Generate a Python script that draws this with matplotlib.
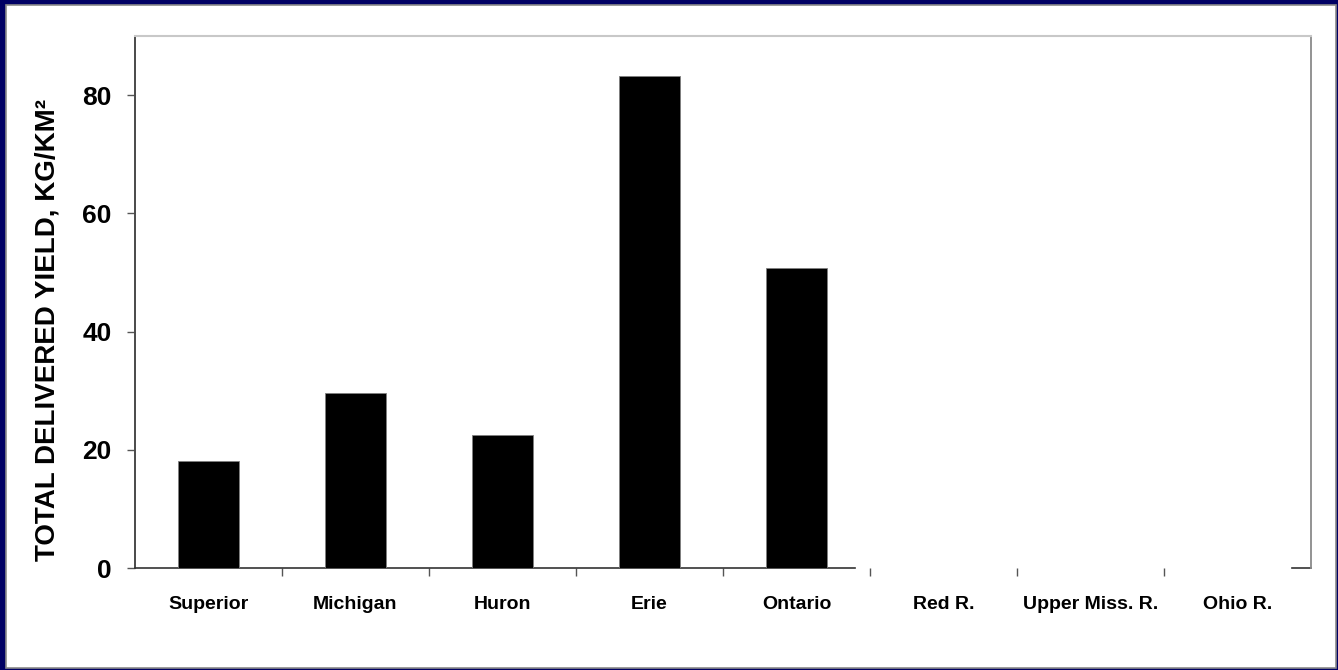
import matplotlib
matplotlib.use("Agg")
import matplotlib.pyplot as plt
from matplotlib.patches import Rectangle

# data
lakes = ["Superior", "Michigan", "Huron", "Erie", "Ontario", "Red R.", "Upper Miss. R.", "Ohio R."]
yields = [18.1, 29.6, 22.5, 83.3, 50.8, 0, 0, 0]
y_ticks = [0, 20, 40, 60, 80]

W, H = 1338, 670
plt.rcParams["font.family"] = ["Liberation Sans", "DejaVu Sans"]

fig = plt.figure(figsize=(W / 100, H / 100), dpi=100)
fig.patch.set_facecolor("#000064")
# white slide area with thin grey edge (behind the axes)
fig.patches.append(Rectangle((6 / W, 2 / H), (W - 8) / W, (H - 7) / H,
                             transform=fig.transFigure, facecolor="white",
                             edgecolor="#8a8a8a", linewidth=1.2, zorder=-1))

ax = fig.add_axes([135 / W, 102 / H, (1311 - 135) / W, (568 - 36) / H])
ax.set_facecolor("white")

x = list(range(len(lakes)))
ax.bar(x, yields, width=0.41, color="black", edgecolor="#808080", linewidth=0.6, zorder=3)

ax.set_xlim(-0.5, len(lakes) - 0.5)
ax.set_ylim(0, 90)

ax.set_yticks(y_ticks)
ax.set_yticklabels([str(v) for v in y_ticks], fontsize=19, fontweight="bold")
ax.tick_params(axis="y", direction="out", length=6, width=1, color="#555555", pad=11)

ax.set_xticks(x)
ax.set_xticklabels(lakes, fontsize=14, fontweight="bold")
ax.tick_params(axis="x", which="major", length=0, pad=20)
ax.set_xticks([k - 0.5 for k in range(1, len(lakes))], minor=True)
ax.tick_params(axis="x", which="minor", direction="out", length=6, width=1, color="#555555")

ax.set_ylabel("TOTAL DELIVERED YIELD, KG/KM²", fontsize=20, fontweight="bold")
ax.yaxis.set_label_coords(-0.063, 0.447)

ax.spines["left"].set_color("#4a4a4a")
ax.spines["left"].set_linewidth(1.4)
ax.spines["top"].set_color("#c8c8c8")
ax.spines["top"].set_linewidth(1.5)
ax.spines["right"].set_color("#8a8a8a")
ax.spines["right"].set_linewidth(1.3)
ax.spines["bottom"].set_color("#333333")
ax.spines["bottom"].set_linewidth(1.2)
ax.spines["bottom"].set_bounds(-0.5, 4.4)
# small stub of the x axis at the far right
ax.axhline(0, xmin=0.984, xmax=1.0, color="#333333", linewidth=1.2, clip_on=False)

fig.savefig("out.png", dpi=100, facecolor=fig.get_facecolor())
